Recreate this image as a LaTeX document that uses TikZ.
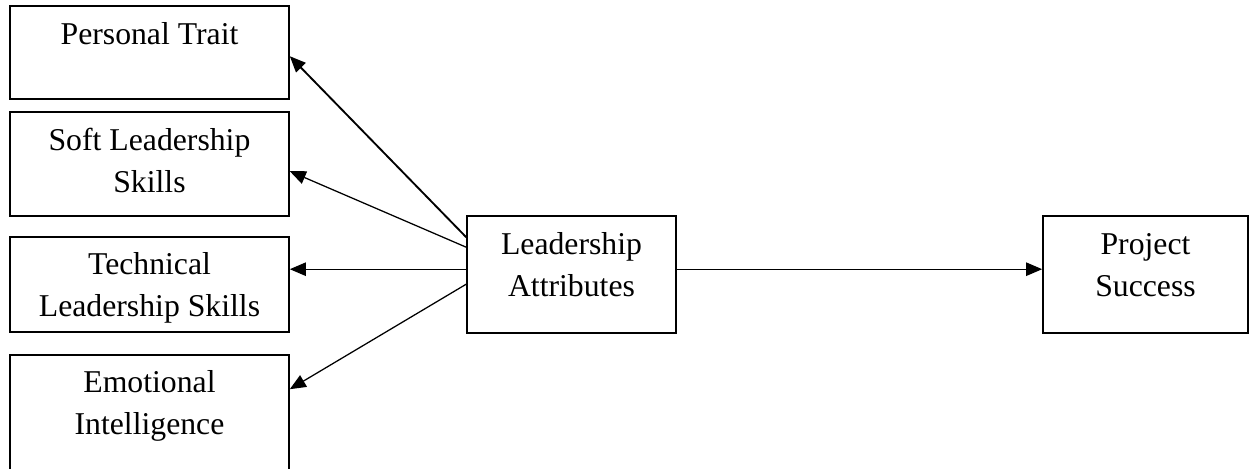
\documentclass[tikz,border=0pt]{standalone}
\usepackage{fontspec}
\setmainfont{Liberation Serif}
\usetikzlibrary{arrows.meta,calc}
\newcommand{\boxlines}[1]{\begin{tabular}[t]{@{}c@{}}#1\end{tabular}}
\begin{document}
\begin{tikzpicture}[x=0.75pt,y=-0.75pt,
  box/.style={draw, line width=1.2pt, rectangle, inner sep=0pt},
  lbl/.style={anchor=base, inner sep=0pt, font=\fontsize{23.8}{31.5}\selectfont},
  link/.style={line width=0.95pt, -{Triangle[length=12pt,width=10pt]}}]
\useasboundingbox (0,0) rectangle (1249,468);
\clip (0,0) rectangle (1249,468);

% attribute boxes on the left
\node[box, minimum width=209.25pt, minimum height=69.75pt] (pt)   at (149.5,52.5) {};
\node[box, minimum width=209.25pt, minimum height=78pt]    (soft) at (149.5,164)  {};
\node[box, minimum width=209.25pt, minimum height=71.25pt] (tech) at (149.5,284.5) {};
\node[box, minimum width=209.25pt, minimum height=97.5pt]  (emo)  at (149.5,420)  {};

% central and outcome boxes
\node[box, minimum width=156.75pt, minimum height=87.75pt] (la) at (571.5,274.5) {};
\node[box, minimum width=153.75pt, minimum height=87.75pt] (ps) at (1145.5,274.5) {};

% box texts, first baseline 39px below the top edge
\node[lbl] (ptT)   at ($(pt.north)+(0,39)$)   {\boxlines{Personal Trait}};
\node[lbl] (softT) at ($(soft.north)+(0,39)$) {\boxlines{Soft Leadership\\Skills}};
\node[lbl] (techT) at ($(tech.north)+(0,38)$) {\boxlines{Technical\\Leadership Skills}};
\node[lbl] (emoT)  at ($(emo.north)+(0,38)$)  {\boxlines{Emotional\\Intelligence}};
\node[lbl] (laT)   at ($(la.north)+(0,39)$)   {\boxlines{Leadership\\Attributes}};
\node[lbl] (psT)   at ($(ps.north)+(0,39)$)   {\boxlines{Project\\Success}};

% connectors
\draw[link, line width=1.4pt] ($(la.north west)+(0,22)$) -- ($(pt.north east)+(0,51)$);
\draw[link] ($(la.north west)+(0,32)$) -- ($(soft.north east)+(0,60)$);
\draw[link] ($(la.north west)+(0,54)$) -- ($(tech.north east)+(0,33)$);
\draw[link] ($(la.north west)+(0,69)$) -- ($(emo.north east)+(0,35)$);
\draw[link] ($(la.north east)+(0,54)$) -- ($(ps.north west)+(0,54)$);
\end{tikzpicture}
\end{document}
